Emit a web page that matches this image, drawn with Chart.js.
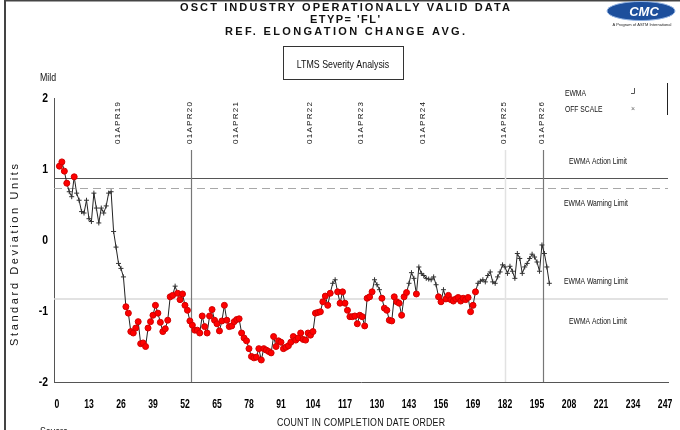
<!DOCTYPE html>
<html>
<head>
<meta charset="UTF-8">
<script src="https://cdn.jsdelivr.net/npm/chart.js"></script>
<style>
  html, body { margin: 0; padding: 0; background: #fff; }
  #chart { display: block; }
</style>
</head>
<body>
<canvas id="chart" width="680" height="430"></canvas>
<script>
// EWMA values, one per test in completion order (count 1..200)
const ewma = [
  1.04, 1.10, 0.97, 0.80, 0.68, 0.61, 0.89, 0.66, 0.56, 0.40,
  0.38, 0.56, 0.30, 0.26, 0.66, 0.45, 0.24, 0.45, 0.38, 0.48,
  0.66, 0.68, 0.12, -0.10, -0.33, -0.40, -0.52, -0.94, -1.03, -1.29,
  -1.31, -1.24, -1.15, -1.46, -1.45, -1.50, -1.24, -1.15, -1.06, -0.92,
  -1.03, -1.16, -1.29, -1.25, -1.13, -0.80, -0.78, -0.65, -0.75, -0.84,
  -0.76, -0.92, -0.99, -1.14, -1.20, -1.27, -1.27, -1.31, -1.07, -1.22,
  -1.31, -1.07, -0.98, -1.13, -1.18, -1.28, -1.14, -0.92, -1.13, -1.22,
  -1.21, -1.15, -1.12, -1.11, -1.31, -1.38, -1.42, -1.53, -1.64, -1.66,
  -1.65, -1.53, -1.69, -1.53, -1.55, -1.57, -1.59, -1.36, -1.50, -1.42,
  -1.44, -1.53, -1.51, -1.49, -1.44, -1.36, -1.41, -1.38, -1.31, -1.40,
  -1.41, -1.31, -1.34, -1.29, -1.03, -1.02, -1.01, -0.87, -0.79, -0.92,
  -0.75, -0.61, -0.56, -0.73, -0.89, -0.73, -0.89, -0.99, -1.08, -1.08,
  -1.07, -1.18, -1.06, -1.08, -1.21, -0.82, -0.80, -0.73, -0.56, -0.63,
  -0.70, -0.82, -0.96, -0.99, -1.13, -1.14, -0.80, -0.87, -0.89, -1.06,
  -0.80, -0.74, -0.61, -0.46, -0.54, -0.76, -0.38, -0.47, -0.50, -0.54,
  -0.55, -0.56, -0.52, -0.63, -0.80, -0.87, -0.70, -0.83, -0.78, -0.84,
  -0.86, -0.83, -0.81, -0.86, -0.82, -0.84, -0.81, -1.01, -0.92, -0.73,
  -0.61, -0.58, -0.56, -0.59, -0.50, -0.45, -0.59, -0.61, -0.52, -0.45,
  -0.35, -0.38, -0.47, -0.37, -0.44, -0.54, -0.19, -0.26, -0.47, -0.38,
  -0.33, -0.26, -0.20, -0.24, -0.31, -0.44, -0.07, -0.19, -0.38, -0.61
];

const xTicks = [0, 13, 26, 39, 52, 65, 78, 91, 104, 117, 130, 143, 156, 169, 182, 195, 208, 221, 234, 247];
const yTicks = [2, 1, 0, -1, -2];

// date markers along the count axis
const dateLabels = ['01APR19', '01APR20', '01APR21', '01APR22', '01APR23', '01APR24', '01APR25', '01APR26'];
const dateCounts = [25, 54.5, 73, 103, 124, 149, 182, 197.5];
const dateLines  = ['01APR20', '01APR25', '01APR26'];

// control limits
const actionUpper  = 0.87;
const warningUpper = 0.73;
const limitLower   = -0.83;
const flagHigh = 0.75;
const flagLow  = -0.70;

const points = ewma.map((v, i) => ({ x: i + 1, y: v }));
const flagged = v => v > flagHigh || v < flagLow;

const SANS = '"Liberation Sans", Arial, sans-serif';

// text stretched to a given width with letter spacing
function spaced(ctx, text, x, y, width, align) {
  ctx.letterSpacing = '0px';
  const w0 = ctx.measureText(text).width;
  const sp = Math.max(0, (width - w0) / Math.max(1, text.length - 1));
  ctx.letterSpacing = sp + 'px';
  const total = w0 + sp * (text.length - 1);
  let left = x;
  if (align === 'center') left = x - total / 2;
  ctx.textAlign = 'left';
  ctx.fillText(text, left, y);
  ctx.letterSpacing = '0px';
}

// horizontally squeezed text (condensed look)
function narrow(ctx, text, x, y, align, sx) {
  ctx.save();
  ctx.translate(x, y);
  ctx.scale(sx || 0.78, 1);
  ctx.textAlign = align || 'left';
  ctx.fillText(text, 0, 0);
  ctx.restore();
}

const decor = {
  id: 'decor',
  beforeDatasetsDraw(chart) {
    const { ctx, chartArea: a, scales: { x, y } } = chart;
    ctx.save();
    // limit lines
    ctx.lineWidth = 1;
    ctx.strokeStyle = '#555';
    ctx.beginPath();
    ctx.moveTo(a.left, Math.round(y.getPixelForValue(actionUpper)) + 0.5);
    ctx.lineTo(a.right, Math.round(y.getPixelForValue(actionUpper)) + 0.5);
    ctx.stroke();
    ctx.strokeStyle = '#a8a8a8';
    ctx.setLineDash([8, 5]);
    ctx.beginPath();
    ctx.moveTo(a.left, Math.round(y.getPixelForValue(warningUpper)) + 0.5);
    ctx.lineTo(a.right, Math.round(y.getPixelForValue(warningUpper)) + 0.5);
    ctx.stroke();
    ctx.setLineDash([]);
    ctx.strokeStyle = '#d8d8d8';
    ctx.lineWidth = 1.5;
    ctx.beginPath();
    ctx.moveTo(a.left, y.getPixelForValue(limitLower));
    ctx.lineTo(a.right, y.getPixelForValue(limitLower));
    ctx.stroke();

    // date lines
    const top = 150;
    dateLines.forEach(name => {
      const px = Math.round(x.getPixelForValue(dateCounts[dateLabels.indexOf(name)])) + 0.5;
      ctx.strokeStyle = name === '01APR25' ? '#e2e2e2' : '#777';
      ctx.lineWidth = name === '01APR25' ? 1.5 : 1.2;
      ctx.beginPath();
      ctx.moveTo(px, top);
      ctx.lineTo(px, a.bottom);
      ctx.stroke();
    });
    ctx.restore();
  },
  afterDraw(chart) {
    const { ctx, chartArea: a, scales: { x, y } } = chart;
    ctx.save();
    ctx.textBaseline = 'middle';

    // outer frame
    ctx.fillStyle = '#444';
    ctx.fillRect(4, 0, 2, 430);
    ctx.fillRect(4, 0, 676, 1.5);

    // tick labels
    ctx.fillStyle = '#000';
    ctx.font = 'bold 12px ' + SANS;
    xTicks.forEach(v => narrow(ctx, String(v), x.getPixelForValue(v), 405, 'center', 0.72));
    ctx.font = 'bold 13px ' + SANS;
    yTicks.forEach(v => narrow(ctx, String(v), a.left - 6, y.getPixelForValue(v), 'right', 0.8));

    // titles
    ctx.fillStyle = '#111';
    ctx.font = 'bold 11px ' + SANS;
    spaced(ctx, 'OSCT INDUSTRY OPERATIONALLY VALID DATA', 345, 8, 330, 'center');
    spaced(ctx, "ETYP= 'FL'", 345, 20, 70, 'center');
    spaced(ctx, 'REF. ELONGATION CHANGE AVG.', 345, 32, 240, 'center');

    // analysis box
    ctx.strokeStyle = '#333';
    ctx.lineWidth = 1;
    ctx.strokeRect(283.5, 46.5, 120, 33);
    ctx.font = '11px ' + SANS;
    narrow(ctx, 'LTMS Severity Analysis', 343, 65, 'center', 0.8);

    // logo
    ctx.fillStyle = '#1d4f9c';
    ctx.beginPath();
    ctx.ellipse(641, 11, 34, 9.5, 0, 0, Math.PI * 2);
    ctx.fill();
    ctx.strokeStyle = '#8fb0e0';
    ctx.lineWidth = 1;
    ctx.stroke();
    ctx.fillStyle = '#fff';
    ctx.font = 'italic bold 13px ' + SANS;
    ctx.textAlign = 'center';
    ctx.fillText('CMC', 644, 12);
    ctx.fillStyle = '#222';
    ctx.font = '4px ' + SANS;
    ctx.fillText('A Program of ASTM International', 642, 25);

    // axis titles
    ctx.fillStyle = '#111';
    ctx.font = '11px ' + SANS;
    narrow(ctx, 'Mild', 40, 78, 'left', 0.8);
    narrow(ctx, 'Severe', 40, 432, 'left', 0.8);
    ctx.save();
    ctx.translate(361, 423);
    ctx.scale(0.8, 1);
    spaced(ctx, 'COUNT IN COMPLETION DATE ORDER', 0, 0, 210, 'center');
    ctx.restore();

    ctx.save();
    ctx.translate(15, 255);
    ctx.rotate(-Math.PI / 2);
    ctx.font = '11px ' + SANS;
    spaced(ctx, 'Standard Deviation Units', 0, 0, 182, 'center');
    ctx.restore();

    // date labels
    ctx.font = '8px ' + SANS;
    dateLabels.forEach((t, i) => {
      const px = x.getPixelForValue(dateCounts[i]) - 1;
      ctx.save();
      ctx.translate(px, 144);
      ctx.rotate(-Math.PI / 2);
      spaced(ctx, t, 0, 0, 42, 'left');
      ctx.restore();
    });

    // limit labels
    ctx.font = '9px ' + SANS;
    narrow(ctx, 'EWMA Action Limit', 598, y.getPixelForValue(actionUpper) - 17, 'center', 0.75);
    narrow(ctx, 'EWMA Warning Limit', 596, y.getPixelForValue(warningUpper) + 15, 'center', 0.75);
    narrow(ctx, 'EWMA Warning Limit', 596, y.getPixelForValue(limitLower) - 17, 'center', 0.75);
    narrow(ctx, 'EWMA Action Limit', 598, y.getPixelForValue(limitLower) + 23, 'center', 0.75);

    // legend
    narrow(ctx, 'EWMA', 565, 94, 'left', 0.75);
    narrow(ctx, 'OFF SCALE', 565, 110, 'left', 0.75);
    ctx.strokeStyle = '#555';
    ctx.lineWidth = 1;
    ctx.beginPath();
    ctx.moveTo(634.5, 88);
    ctx.lineTo(634.5, 93.5);
    ctx.lineTo(631, 93.5);
    ctx.stroke();
    ctx.font = '7px ' + SANS;
    ctx.fillStyle = '#666';
    ctx.textAlign = 'left';
    ctx.fillText('\u00d7', 631, 109);
    ctx.strokeStyle = '#222';
    ctx.beginPath();
    ctx.moveTo(667.5, 83);
    ctx.lineTo(667.5, 115);
    ctx.stroke();

    ctx.restore();
  }
};

new Chart(document.getElementById('chart'), {
  type: 'line',
  data: {
    datasets: [{
      data: points,
      borderColor: '#222',
      borderWidth: 1,
      tension: 0,
      pointStyle: c => flagged(c.raw.y) ? 'circle' : 'cross',
      pointRadius: c => flagged(c.raw.y) ? 3 : 2.5,
      pointBackgroundColor: c => flagged(c.raw.y) ? '#ff0000' : '#333',
      pointBorderColor: c => flagged(c.raw.y) ? '#d00000' : '#333',
      pointBorderWidth: 1
    }]
  },
  options: {
    responsive: false,
    animation: false,
    events: [],
    layout: { padding: { top: 98, right: 12, left: 0, bottom: 0 } },
    plugins: { legend: { display: false }, tooltip: { enabled: false } },
    scales: {
      x: {
        type: 'linear',
        min: -1.2,
        max: 248.2,
        afterBuildTicks: s => { s.ticks = xTicks.map(v => ({ value: v })); },
        afterFit: s => { s.height = 48; },
        grid: { drawOnChartArea: false, drawTicks: false },
        border: { display: true, color: '#555', width: 1 },
        ticks: { display: false }
      },
      y: {
        min: -2,
        max: 2,
        afterBuildTicks: s => { s.ticks = yTicks.map(v => ({ value: v })); },
        afterFit: s => { s.width = 54; },
        grid: { drawOnChartArea: false, drawTicks: false },
        border: { display: true, color: '#555', width: 1 },
        ticks: { display: false }
      }
    }
  },
  plugins: [decor]
});
</script>
</body>
</html>
